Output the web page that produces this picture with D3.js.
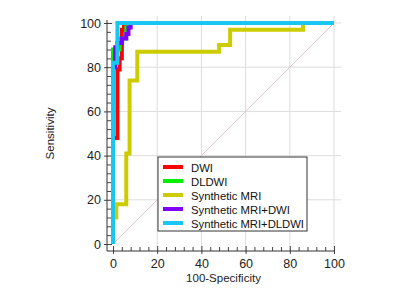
<!DOCTYPE html>
<html>
<head>
<meta charset="utf-8">
<script src="https://cdn.jsdelivr.net/npm/d3@7"></script>
<style>
  body { margin: 0; background: #fff; }
  text { font-family: "Liberation Sans", Arial, sans-serif; }
</style>
</head>
<body>
<div id="chart"></div>
<script>
// ROC curves: sensitivity vs 100-specificity
const seriesNames = ['DWI', 'DLDWI', 'Synthetic MRI', 'Synthetic MRI+DWI', 'Synthetic MRI+DLDWI'];
const seriesColors = ['#ff0000', '#00ee00', '#cccc00', '#8000ff', '#19c6f2'];

// step points [100-specificity, sensitivity]
const dwi = [[0, 0], [0, 48], [2, 48], [2, 79], [3, 79], [3, 84], [4, 84], [4, 97], [5, 97], [5, 100], [100, 100]];
const dldwi = [[0, 0], [0, 88], [3, 88], [3, 93], [6, 93], [6, 98], [7, 98], [7, 100], [100, 100]];
const synthMri = [[0, 0], [0, 12], [1.5, 12], [1.5, 18], [6, 18], [6, 41], [7.5, 41], [7.5, 74], [11, 74], [11, 87],
                  [48, 87], [48, 90], [53, 90], [53, 97], [86, 97], [86, 100], [100, 100]];
const synthDwi = [[0, 0], [0, 80], [1, 80], [1, 89], [2, 89], [2, 91], [4, 91], [4, 93], [6, 93], [6, 95],
                  [7, 95], [7, 98], [8, 98], [8, 100], [100, 100]];
const synthDldwi = [[0, 0], [0, 82], [2, 82], [2, 100], [100, 100]];

const curves = [dwi, dldwi, synthMri, synthDwi, synthDldwi];
const majorTicks = [0, 20, 40, 60, 80, 100];
const minorTicks = d3.range(0, 101, 4).filter(v => v % 20 !== 0);

const W = 400, H = 300;
const axisX = 107, axisY = 251;

const svg = d3.select('#chart').append('svg')
    .attr('width', W)
    .attr('height', H);

const x = d3.scaleLinear().domain([0, 100]).range([113, 334]);
const y = d3.scaleLinear().domain([0, 100]).range([244, 23]);

// grid
svg.append('g').selectAll('line')
    .data(majorTicks.slice(1))
    .join('line')
    .attr('x1', d => x(d)).attr('x2', d => x(d))
    .attr('y1', axisY).attr('y2', 16)
    .attr('stroke', '#dcdcdc').attr('stroke-width', 1);
svg.append('g').selectAll('line')
    .data(majorTicks.slice(1))
    .join('line')
    .attr('y1', d => y(d)).attr('y2', d => y(d))
    .attr('x1', axisX).attr('x2', 341)
    .attr('stroke', '#dcdcdc').attr('stroke-width', 1);

// diagonal reference
svg.append('line')
    .attr('x1', x(0)).attr('y1', y(0))
    .attr('x2', x(100)).attr('y2', y(100))
    .attr('stroke', '#dfc3c9').attr('stroke-width', 1);

// axes
const yMinor = d3.axisRight(y).tickValues(minorTicks).tickSize(4).tickFormat('');
const xMinor = d3.axisTop(x).tickValues(minorTicks).tickSize(4).tickFormat('');
svg.append('g').attr('transform', `translate(${axisX},0)`).call(yMinor)
    .call(g => g.select('.domain').remove());
svg.append('g').attr('transform', `translate(0,${axisY})`).call(xMinor)
    .call(g => g.select('.domain').remove());

const yMajor = d3.axisLeft(y).tickValues(majorTicks).tickSize(3).tickPadding(3);
const xMajor = d3.axisBottom(x).tickValues(majorTicks).tickSize(3).tickPadding(5);
svg.append('g').attr('transform', `translate(${axisX},0)`).call(yMajor)
    .call(g => g.select('.domain').remove())
    .call(g => g.selectAll('line').attr('x1', 5))
    .call(g => g.selectAll('text').style('font-size', '12.5px').attr('fill', '#222'));
svg.append('g').attr('transform', `translate(0,${axisY})`).call(xMajor)
    .call(g => g.select('.domain').remove())
    .call(g => g.selectAll('line').attr('y1', -5))
    .call(g => g.selectAll('text').style('font-size', '12.5px').attr('fill', '#222'));

svg.selectAll('.tick line').attr('stroke', '#444');

svg.append('line')
    .attr('x1', axisX).attr('x2', axisX).attr('y1', 20).attr('y2', axisY)
    .attr('stroke', '#333');
svg.append('line')
    .attr('x1', axisX).attr('x2', x(100) + 1).attr('y1', axisY).attr('y2', axisY)
    .attr('stroke', '#333');

// axis titles
svg.append('text')
    .attr('x', (x(0) + x(100)) / 2).attr('y', 282)
    .attr('text-anchor', 'middle')
    .style('font-size', '11.5px').attr('fill', '#222')
    .text('100-Specificity');
svg.append('text')
    .attr('transform', `translate(54,${(y(0) + y(100)) / 2}) rotate(-90)`)
    .attr('text-anchor', 'middle')
    .style('font-size', '11.5px').attr('fill', '#222')
    .text('Sensitivity');

// curves
const line = d3.line().x(d => x(d[0])).y(d => y(d[1]));
svg.append('g').selectAll('path')
    .data(curves)
    .join('path')
    .attr('d', line)
    .attr('fill', 'none')
    .attr('stroke', (d, i) => seriesColors[i])
    .attr('stroke-width', 4);

// legend
const legend = svg.append('g').attr('transform', 'translate(158,157)');
legend.append('rect')
    .attr('width', 149).attr('height', 74)
    .attr('fill', '#fff').attr('stroke', '#333');
seriesNames.forEach((name, i) => {
    const row = legend.append('g').attr('transform', `translate(0,${10 + i * 14})`);
    row.append('line')
        .attr('x1', 5).attr('x2', 25)
        .attr('stroke', seriesColors[i]).attr('stroke-width', 4);
    row.append('text')
        .attr('x', 33).attr('y', 4.5)
        .style('font-size', '11.3px').attr('fill', '#111')
        .attr('textLength', name === 'Synthetic MRI+DLDWI' ? 113 : null)
        .text(name);
});
</script>
</body>
</html>
